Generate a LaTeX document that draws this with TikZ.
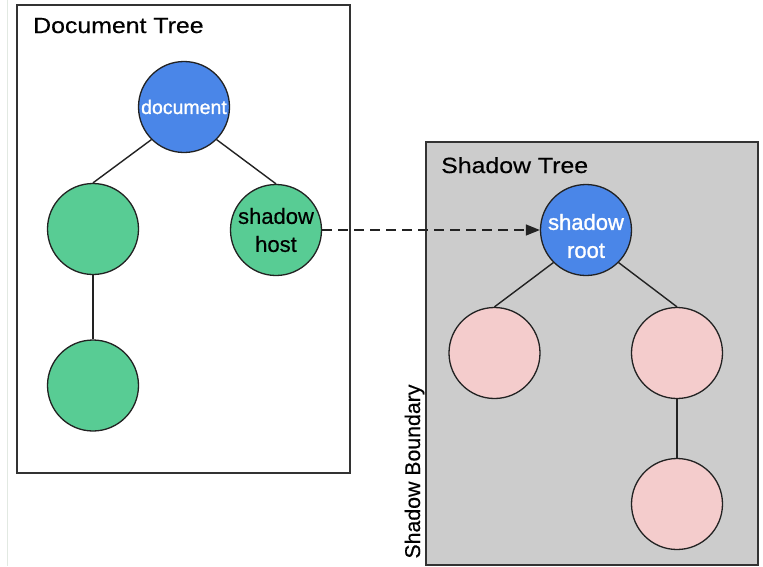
\documentclass[tikz,border=0pt]{standalone}
\usepackage{fontspec}
\setmainfont{Liberation Sans}[FakeBold=0.4]
\newfontfamily\titlefont{Liberation Sans}[FakeStretch=1.13,FakeBold=0.4]
\newfontfamily\whitefont{Liberation Sans}[FakeBold=1.2]
\usetikzlibrary{arrows.meta}
\definecolor{nodeblue}{HTML}{4A86E8}
\definecolor{nodegreen}{HTML}{58CC94}
\definecolor{nodepink}{HTML}{F4CCCC}
\definecolor{shadowgray}{HTML}{CCCCCC}
\definecolor{edgecol}{HTML}{222222}
\definecolor{boxcol}{HTML}{333333}
\definecolor{faintline}{HTML}{E2E9E2}
\begin{document}
\begin{tikzpicture}[x=1pt,y=-1pt,
  treenode/.style={circle,draw=edgecol,line width=1.3pt,minimum size=91pt,inner sep=0pt,align=center},
  bluenode/.style={treenode,fill=nodeblue,text=white},
  greennode/.style={treenode,fill=nodegreen,text=black},
  pinknode/.style={treenode,fill=nodepink},
  treebox/.style={draw=boxcol,line width=1.5pt},
  edge/.style={draw=edgecol,line width=1.4pt},
  titletext/.style={anchor=base west,inner sep=0pt,font=\titlefont\fontsize{22}{26}\selectfont}
]
\useasboundingbox (0,0) rectangle (763,566);
\fill[white] (0,0) rectangle (763,566);
\draw[faintline,line width=1pt] (7,0) -- (7,566);

% boxes
\draw[treebox,fill=white] (17,5) rectangle (350,473);
\draw[treebox,fill=shadowgray] (426,142) rectangle (758,565);

% titles
\node[titletext] (doctitle) at (33,33) {Document Tree};
\node[titletext] (shadowtitle) at (441,173) {Shadow Tree};
\node[rotate=90,anchor=base,font=\fontsize{21.3}{24}\selectfont] (boundary) at (420,471.5) {Shadow Boundary};

% document tree
\node[bluenode,font=\whitefont\fontsize{19.5}{24}\selectfont] (doc) at (184,107) {document};
\node[greennode] (left) at (93,229) {};
\node[greennode,font=\fontsize{22}{28}\selectfont] (host) at (276,230) {shadow\\host};
\node[greennode] (leftchild) at (93,385.5) {};

% shadow tree
\node[bluenode,label={[name=roottext,yshift=-6pt,text=white,align=center,font=\whitefont\fontsize{22}{28}\selectfont]center:shadow\\root}] (root) at (586,230) {};
\node[pinknode] (pleft) at (494.5,353) {};
\node[pinknode] (pright) at (677,353) {};
\node[pinknode] (pbottom) at (677,504) {};

% edges
\draw[edge] (doc.south west) -- (left.north);
\draw[edge] (doc.south east) -- (host.north);
\draw[edge] (left.south) -- (leftchild.north);
\draw[edge] (root.south west) -- (pleft.north);
\draw[edge] (root.south east) -- (pright.north);
\draw[edge] (pright.south) -- (pbottom.north);

% shadow link
\draw[edgecol,line width=1.3pt,dash pattern=on 10pt off 6pt,-{Triangle[length=14pt,width=11pt]}] (host.east) -- (root.west);
\end{tikzpicture}
\end{document}
